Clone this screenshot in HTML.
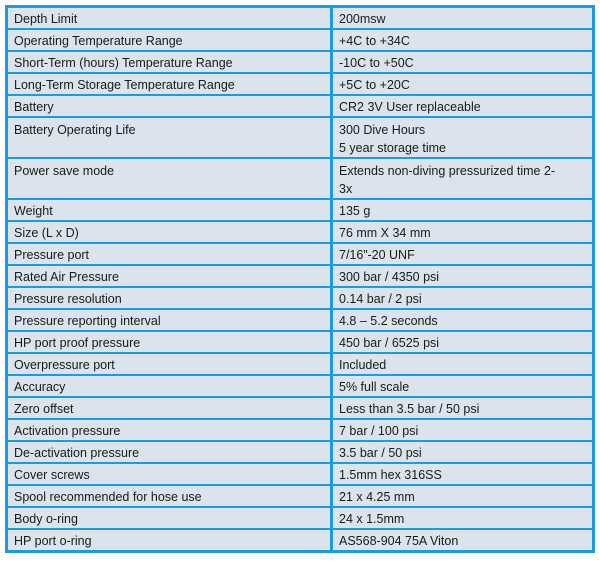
<!DOCTYPE html>
<html><head><style>
body{margin:0;background:#fff;width:600px;height:566px;overflow:hidden}
table{position:absolute;left:5px;top:5px;width:590px;border-collapse:collapse;border:3px solid #1a9ce0;font-family:"Liberation Sans",sans-serif;font-size:12.5px;color:#1a1a1a}
td{border:2px solid #1a9ce0;background:#dbe3ec;padding:3px 0 0 6px;vertical-align:top;height:19.3px;line-height:17px;box-sizing:border-box}
td:first-child{width:325px;border-right-width:3px}
tr.d td{height:39.5px;line-height:18px;padding-top:3px}
</style></head><body>
<table>
<tr><td>Depth Limit</td><td>200msw</td></tr>
<tr><td>Operating Temperature Range</td><td>+4C to +34C</td></tr>
<tr><td>Short-Term (hours) Temperature Range</td><td>-10C to +50C</td></tr>
<tr><td>Long-Term Storage Temperature Range</td><td>+5C to +20C</td></tr>
<tr><td>Battery</td><td>CR2 3V User replaceable</td></tr>
<tr class="d"><td>Battery Operating Life</td><td>300 Dive Hours<br>5 year storage time</td></tr>
<tr class="d"><td>Power save mode</td><td>Extends non-diving pressurized time 2-<br>3x</td></tr>
<tr><td>Weight</td><td>135 g</td></tr>
<tr><td>Size (L x D)</td><td>76 mm X 34 mm</td></tr>
<tr><td>Pressure port</td><td>7/16”-20 UNF</td></tr>
<tr><td>Rated Air Pressure</td><td>300 bar / 4350 psi</td></tr>
<tr><td>Pressure resolution</td><td>0.14 bar / 2 psi</td></tr>
<tr><td>Pressure reporting interval</td><td>4.8 – 5.2 seconds</td></tr>
<tr><td>HP port proof pressure</td><td>450 bar / 6525 psi</td></tr>
<tr><td>Overpressure port</td><td>Included</td></tr>
<tr><td>Accuracy</td><td>5% full scale</td></tr>
<tr><td>Zero offset</td><td>Less than 3.5 bar / 50 psi</td></tr>
<tr><td>Activation pressure</td><td>7 bar / 100 psi</td></tr>
<tr><td>De-activation pressure</td><td>3.5 bar / 50 psi</td></tr>
<tr><td>Cover screws</td><td>1.5mm hex 316SS</td></tr>
<tr><td>Spool recommended for hose use</td><td>21 x 4.25 mm</td></tr>
<tr><td>Body o-ring</td><td>24 x 1.5mm</td></tr>
<tr><td>HP port o-ring</td><td>AS568-904 75A Viton</td></tr>
</table>
</body></html>
